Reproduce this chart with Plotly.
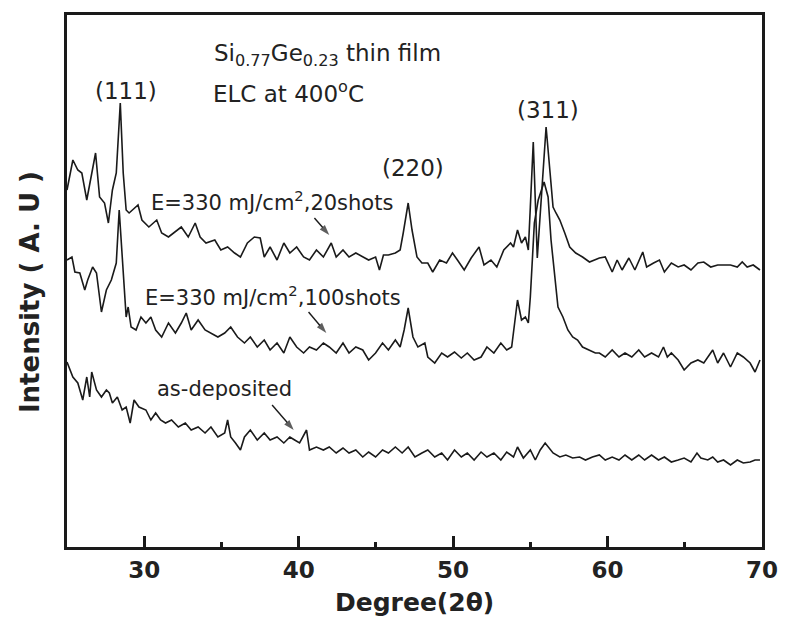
import plotly.graph_objects as go

# ---- data (2theta in degrees, intensity in arbitrary units) ----
x_20shots = [25.00, 25.38, 25.70, 25.96, 26.28, 26.60, 26.85, 27.11, 27.43, 27.68,
             27.94, 28.19, 28.45, 28.64, 28.83, 29.02, 29.34, 29.60, 29.85, 30.30,
             30.81, 31.13, 31.57, 32.02, 32.40, 32.85, 33.30, 33.62, 34.00, 34.57,
             34.96, 35.40, 35.85, 36.23, 36.68, 37.13, 37.51, 37.77, 38.15, 38.60,
             39.04, 39.43, 39.87, 40.32, 40.70, 41.15, 41.60, 42.11, 42.43, 42.87,
             43.26, 43.70, 44.15, 44.53, 44.98, 45.23, 45.49, 45.81, 46.26, 46.57,
             46.77, 47.09, 47.34, 47.66, 47.98, 48.36, 48.68, 49.13, 49.57, 49.96,
             50.28, 50.72, 51.17, 51.68, 52.00, 52.45, 52.83, 53.28, 53.72, 53.91,
             54.17, 54.43, 54.68, 54.87, 55.00, 55.19, 55.45, 56.02, 56.28, 56.47,
             56.66, 56.91, 57.23, 57.55, 57.94, 58.38, 58.83, 59.21, 59.47, 59.85,
             60.30, 60.62, 60.94, 61.38, 61.77, 62.28, 62.53, 62.98, 63.36, 63.68,
             64.13, 64.57, 64.96, 65.40, 65.85, 66.23, 66.68, 67.13, 67.51, 67.96,
             68.40, 68.72, 69.04, 69.43, 69.87]
y_20shots = [357, 387, 377, 374, 347, 374, 394, 350, 344, 324,
             357, 374, 444, 374, 337, 334, 339, 342, 327, 320,
             327, 314, 310, 315, 320, 310, 324, 310, 304, 307,
             297, 300, 294, 290, 304, 310, 309, 290, 300, 287,
             304, 294, 300, 290, 287, 297, 290, 304, 290, 297,
             290, 294, 290, 287, 290, 277, 292, 292, 294, 297,
             314, 344, 317, 290, 284, 284, 275, 287, 284, 294,
             287, 277, 289, 300, 282, 287, 280, 297, 304, 300,
             317, 304, 310, 297, 340, 405, 289, 420, 374, 340,
             334, 327, 314, 300, 294, 290, 285, 287, 289, 290,
             275, 287, 277, 289, 277, 295, 280, 284, 287, 275,
             284, 280, 282, 277, 284, 285, 280, 282, 282, 282,
             280, 285, 280, 282, 277]

x_100shots = [25.00, 25.32, 25.51, 25.83, 26.15, 26.34, 26.66, 26.91, 27.23, 27.55,
              27.87, 28.19, 28.38, 28.64, 28.83, 28.96, 29.15, 29.47, 29.79, 30.11,
              30.43, 30.74, 31.13, 31.57, 32.02, 32.40, 32.72, 33.04, 33.49, 33.94,
              34.32, 34.77, 35.21, 35.60, 36.04, 36.49, 36.87, 37.32, 37.77, 38.15,
              38.60, 39.04, 39.43, 39.87, 40.32, 40.70, 41.15, 41.60, 41.98, 42.43,
              42.87, 43.26, 43.70, 44.15, 44.53, 44.98, 45.43, 45.81, 46.26, 46.57,
              46.83, 47.09, 47.40, 47.72, 48.17, 48.36, 48.81, 49.26, 49.64, 50.09,
              50.53, 50.92, 51.36, 51.81, 52.19, 52.64, 53.09, 53.47, 53.79, 54.17,
              54.43, 54.68, 54.87, 55.00, 55.26, 55.51, 55.89, 56.15, 56.34, 56.60,
              56.79, 57.11, 57.43, 57.74, 58.06, 58.38, 58.83, 59.21, 59.47, 59.85,
              60.30, 60.74, 61.13, 61.57, 62.02, 62.40, 62.85, 63.30, 63.62, 63.87,
              64.13, 64.57, 64.96, 65.40, 65.85, 66.23, 66.81, 67.13, 67.51, 67.96,
              68.40, 68.79, 69.23, 69.55, 69.87]
y_100shots = [287, 290, 275, 274, 257, 267, 280, 274, 235, 257,
              267, 284, 337, 270, 230, 240, 220, 217, 230, 224,
              230, 217, 210, 224, 214, 224, 234, 217, 227, 217,
              214, 210, 214, 220, 210, 204, 210, 200, 207, 197,
              204, 194, 210, 200, 194, 200, 197, 204, 200, 194,
              204, 194, 200, 197, 187, 194, 204, 197, 207, 200,
              217, 239, 210, 200, 204, 190, 184, 194, 190, 195,
              189, 194, 187, 190, 200, 194, 204, 197, 200, 247,
              227, 230, 224, 250, 324, 347, 365, 350, 307, 264,
              240, 230, 217, 210, 207, 200, 197, 194, 194, 190,
              197, 190, 194, 190, 197, 190, 194, 190, 200, 190,
              194, 187, 177, 184, 187, 184, 197, 184, 194, 180,
              194, 190, 184, 175, 187]

x_asdep = [25.00, 25.38, 25.70, 26.02, 26.28, 26.47, 26.60, 26.91, 27.23, 27.55,
           27.74, 27.94, 28.26, 28.57, 28.83, 29.09, 29.34, 29.66, 30.11, 30.43,
           30.74, 31.06, 31.38, 31.77, 32.21, 32.66, 33.04, 33.49, 33.94, 34.32,
           34.77, 35.21, 35.40, 35.60, 35.91, 36.23, 36.49, 36.87, 37.32, 37.77,
           38.15, 38.60, 39.04, 39.43, 39.74, 40.06, 40.51, 40.70, 41.15, 41.60,
           41.98, 42.43, 42.87, 43.26, 43.70, 44.15, 44.53, 44.98, 45.43, 45.81,
           46.26, 46.70, 47.09, 47.53, 47.98, 48.36, 48.81, 49.26, 49.64, 50.09,
           50.53, 50.92, 51.36, 51.81, 52.19, 52.64, 53.09, 53.47, 53.91, 54.17,
           54.55, 55.00, 55.32, 55.64, 55.96, 56.15, 56.47, 56.91, 57.30, 57.74,
           58.19, 58.57, 59.02, 59.47, 59.85, 60.30, 60.74, 61.13, 61.57, 62.02,
           62.40, 62.85, 63.30, 63.68, 64.13, 64.57, 64.96, 65.40, 65.79, 66.04,
           66.49, 66.81, 67.13, 67.51, 67.96, 68.40, 68.79, 69.23, 69.55, 69.87]
y_asdep = [185, 170, 164, 147, 170, 150, 175, 157, 150, 157,
           154, 144, 150, 137, 140, 124, 147, 140, 137, 127,
           134, 127, 124, 127, 120, 124, 117, 120, 114, 120,
           110, 114, 127, 110, 104, 97, 110, 117, 107, 114,
           107, 110, 104, 110, 107, 104, 117, 97, 100, 97,
           100, 94, 99, 94, 97, 90, 95, 90, 97, 94,
           100, 94, 100, 90, 94, 97, 90, 94, 87, 97,
           90, 94, 87, 95, 90, 94, 87, 95, 90, 100,
           89, 97, 87, 97, 104, 100, 94, 90, 92, 89,
           90, 87, 90, 92, 87, 90, 87, 92, 87, 92,
           87, 92, 87, 90, 85, 87, 89, 85, 94, 89,
           87, 90, 85, 87, 82, 87, 84, 85, 87, 87]

x_ticks = [30, 40, 50, 60, 70]

# arrow (tail -> head) positions for the sample labels
arrow_x = [[41.02, 41.98], [40.64, 41.79], [38.28, 39.68]]
arrow_y = [[329, 312], [235, 214], [142, 117]]

LINE = "#1a1a1a"
FONT = "DejaVu Sans, Verdana, sans-serif"

fig = go.Figure()
for xs, ys in [(x_20shots, y_20shots), (x_100shots, y_100shots), (x_asdep, y_asdep)]:
    fig.add_trace(go.Scatter(x=xs, y=ys, mode="lines",
                             line=dict(color=LINE, width=1.6), showlegend=False,
                             hoverinfo="skip"))

for ax_, ay_ in zip(arrow_x, arrow_y):
    fig.add_trace(go.Scatter(x=ax_, y=ay_, mode="lines+markers",
                             line=dict(color=LINE, width=1.4),
                             marker=dict(symbol="arrow", size=[0, 11], angleref="previous",
                                         color=LINE, line=dict(width=0)),
                             showlegend=False, hoverinfo="skip"))

ann = []
txt = dict(font=dict(family=FONT, size=23, color="#222"), showarrow=False)
ann.append(dict(x=28.83, y=456, text="(111)", xanchor="center", yanchor="middle", **txt))
ann.append(dict(x=47.40, y=379, text="(220)", xanchor="center", yanchor="middle", **txt))
ann.append(dict(x=56.15, y=437, text="(311)", xanchor="center", yanchor="middle", **txt))
ann.append(dict(x=34.40, y=492, text="Si<sub>0.77</sub>Ge<sub>0.23</sub> thin film",
                xanchor="left", yanchor="middle", **txt))
ann.append(dict(x=34.32, y=455, text="ELC at 400<sup>o</sup>C", xanchor="left",
                yanchor="middle", **txt))
txt2 = dict(font=dict(family=FONT, size=21, color="#222"), showarrow=False)
ann.append(dict(x=30.30, y=346, text="E=330 mJ/cm<sup>2</sup>,20shots", xanchor="left",
                yanchor="middle", **txt2))
ann.append(dict(x=29.95, y=251, text="E=330 mJ/cm<sup>2</sup>,100shots", xanchor="left",
                yanchor="middle", **txt2))
ann.append(dict(x=35.20, y=158, text="as-deposited", xanchor="center",
                yanchor="middle", **txt2))

ann.append(dict(xref="paper", yref="paper", x=0.5, y=-0.105, text="<b>Degree(2θ)</b>",
                xanchor="center", yanchor="middle", showarrow=False,
                font=dict(family=FONT, size=25, color="#222")))
ann.append(dict(xref="paper", yref="paper", x=-0.054, y=0.48, text="<b>Intensity ( A. U )</b>",
                textangle=-90, xanchor="center", yanchor="middle", showarrow=False,
                font=dict(family=FONT, size=26, color="#222")))

fig.update_layout(
    width=790, height=619,
    margin=dict(l=67, r=18, t=15, b=72),
    paper_bgcolor="white", plot_bgcolor="white",
    annotations=ann,
    xaxis=dict(range=[25, 70], tickvals=x_ticks, ticks="inside", ticklen=11, tickwidth=3,
               tickcolor=LINE, showline=True, linewidth=3, linecolor=LINE, mirror=True,
               showgrid=False, zeroline=False,
               minor=dict(dtick=5, tick0=25, ticks="inside", ticklen=5, tickwidth=3,
                          tickcolor=LINE, showgrid=False),
               tickfont=dict(family=FONT, size=23, color="#222", weight="bold"),
               ticklabelstandoff=0),
    yaxis=dict(range=[0, 532], showticklabels=False, ticks="", showline=True, linewidth=3,
               linecolor=LINE, mirror=True, showgrid=False, zeroline=False),
)

fig.write_html("out.html")
